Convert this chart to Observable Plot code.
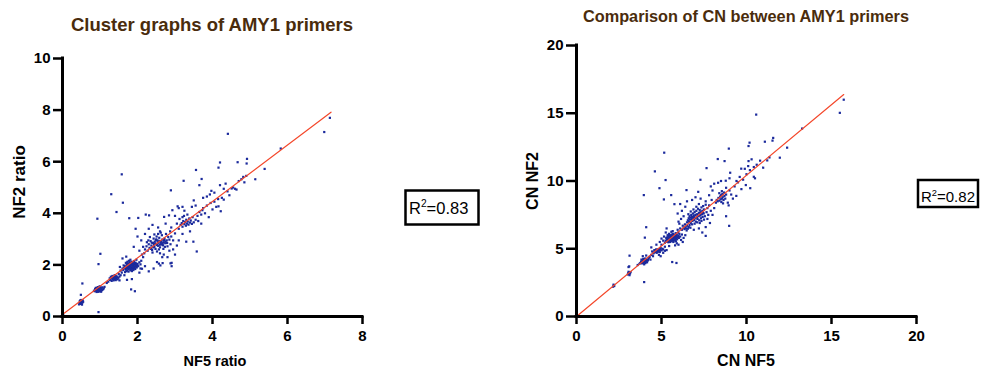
<!DOCTYPE html>
<html>
<head>
<meta charset="utf-8">
<script src="https://cdn.jsdelivr.net/npm/d3@7"></script>
<script src="https://cdn.jsdelivr.net/npm/@observablehq/plot@0.6"></script>
<style>
  html, body { margin: 0; padding: 0; background: #fff; }
  #wrap { position: relative; width: 990px; height: 370px; overflow: hidden; font-family: "Liberation Sans", Arial, sans-serif; }
  #wrap > svg, #wrap > .pl { position: absolute; top: 0; }
</style>
</head>
<body>
<div id="wrap"></div>
<script>
// ---------- data ----------
const titleLeft = "Cluster graphs of AMY1 primers";
const titleRight = "Comparison of CN between AMY1 primers";
const xLabelLeft = "NF5 ratio", yLabelLeft = "NF2 ratio";
const xLabelRight = "CN NF5", yLabelRight = "CN NF2";
const r2Left = "0.83", r2Right = "0.82";

const ticksLeftX = [0, 2, 4, 6, 8];
const ticksLeftY = [0, 2, 4, 6, 8, 10];
const ticksRightX = [0, 5, 10, 15, 20];
const ticksRightY = [0, 5, 10, 15, 20];

// fitted line end points
const fitLeftX = [0, 7.16];
const fitLeftY = [0.08, 7.92];
const fitRightX = [0, 15.72];
const fitRightY = [0, 16.38];

// NF5 ratio vs NF2 ratio
const pointsLeft = [
 [0,0],[0.02,0.05],[0.80,0],[0.93,0],[3.30,0],[3.40,0],
 [0.46,0.52],[0.48,0.58],[0.50,0.55],[0.52,0.60],[0.49,0.49],[0.53,0.54],[0.47,0.62],[0.51,0.50],[0.55,0.57],[0.50,0.64],[0.44,0.47],[0.54,0.62],[0.48,0.53],[0.52,0.46],[0.46,0.59],[0.49,0.84],[0.53,1.28],
 [0.86,0.98],[0.88,1.02],[0.90,1.05],[0.92,0.99],[0.93,1.08],[0.95,1.03],[0.96,1.10],[0.97,0.97],[0.98,1.06],[1.00,1.01],[1.01,1.12],[1.02,1.04],[1.03,0.96],[1.04,1.09],[0.89,1.11],[0.91,0.95],[0.94,1.14],[0.99,1.00],[1.05,1.02],[1.06,1.13],[0.87,1.07],[0.93,1.01],[0.97,1.04],[1.00,1.07],[0.95,0.96],[1.08,1.05],[1.10,1.09],[0.84,1.00],[1.12,1.15],[0.99,1.17],[0.96,0.17],
 [1.27,1.42],[1.30,1.47],[1.32,1.51],[1.34,1.45],[1.35,1.55],[1.37,1.49],[1.38,1.43],[1.40,1.53],[1.41,1.58],[1.43,1.47],[1.45,1.52],[1.47,1.44],[1.29,1.54],[1.36,1.40],[1.39,1.60],[1.44,1.56],[1.49,1.50],[1.31,1.38],[1.33,1.57],[1.42,1.41],[1.26,1.48],[1.52,1.55],[1.55,1.60],[1.22,1.35],[1.52,1.40],[1.18,1.30],
 [1.62,1.80],[1.64,1.88],[1.66,1.95],[1.68,1.84],[1.70,1.92],[1.71,2.02],[1.72,1.78],[1.73,1.88],[1.74,1.97],[1.75,2.06],[1.76,1.83],[1.77,1.93],[1.78,2.00],[1.79,1.86],[1.80,2.10],[1.80,1.95],[1.81,1.79],[1.82,2.03],[1.83,1.90],[1.84,1.98],[1.85,2.12],[1.86,1.85],[1.87,1.94],[1.88,2.05],[1.89,1.88],[1.90,1.99],[1.91,2.15],[1.92,1.92],[1.93,2.02],[1.94,1.84],[1.95,2.08],[1.96,1.96],[1.97,2.20],[1.98,1.90],[2.00,2.04],[2.02,1.95],[1.69,2.08],[1.73,2.12],[1.77,2.16],[1.81,2.20],[1.85,1.76],[1.89,1.80],[1.76,1.74],[1.67,1.72],[1.63,1.98],[1.60,1.86],[1.72,1.95],[1.78,1.91],[1.82,1.97],[1.86,2.00],[1.90,1.94],[1.84,2.06],[1.79,2.04],[1.75,1.90],[1.71,1.85],[1.93,1.87],[1.96,2.03],[1.99,1.98],[1.87,2.10],[1.83,1.84],[1.74,2.01],[1.80,1.89],[1.88,1.92],[1.92,2.07],[1.70,1.76],[2.05,2.10],[2.08,2.02],[1.58,1.70],[1.55,1.78],[2.10,2.16],
 [1.50,1.65],[1.65,1.60],[1.72,1.42],[1.85,1.45],[2.05,1.70],[2.12,1.85],[2.20,1.95],[1.60,2.25],[1.70,2.32],[1.53,1.92],[2.15,2.30],[2.30,1.75],[1.83,1.05],[1.93,0.98],[2.08,1.86],[2.52,2.11],[2.61,1.98],[2.88,2.06],[2.43,1.86],[2.66,2.30],[2.91,2.08],[2.91,1.95],[2.67,2.07],[2.57,2.05],[0.96,2.03],[1.01,2.43],
 [2.20,2.60],[2.24,2.72],[2.27,2.55],[2.30,2.80],[2.32,2.66],[2.35,2.92],[2.37,2.75],[2.39,2.58],[2.41,2.85],[2.43,3.02],[2.45,2.70],[2.46,2.90],[2.48,2.62],[2.50,2.80],[2.51,3.10],[2.53,2.95],[2.55,2.74],[2.56,2.86],[2.58,3.05],[2.60,2.68],[2.61,2.92],[2.63,2.80],[2.65,3.15],[2.66,2.98],[2.68,2.76],[2.70,2.88],[2.72,3.02],[2.74,2.84],[2.76,3.20],[2.78,2.95],[2.80,2.72],[2.82,3.08],[2.45,3.18],[2.40,2.48],[2.52,2.52],[2.57,2.60],[2.62,3.25],[2.69,2.62],[2.73,2.70],[2.33,3.08],[2.29,2.95],[2.36,2.62],[2.44,2.78],[2.49,2.96],[2.54,2.88],[2.59,2.78],[2.64,2.90],[2.67,2.84],[2.71,2.96],[2.75,2.91],[2.79,2.85],[2.85,2.98],[2.88,2.80],[2.90,3.10],[2.47,2.83],[2.52,2.77],[2.58,2.93],[2.62,2.86],[2.66,2.79],[2.42,2.68],[2.38,2.86],[2.50,2.99],[2.55,3.20],[2.60,3.30],[2.25,2.88],[2.18,2.45],[2.15,2.70],[2.95,2.95],[3.00,3.22],[2.87,3.30],
 [2.10,2.95],[2.20,3.20],[2.30,3.40],[2.40,3.55],[2.00,3.10],[1.90,2.70],[1.95,3.40],[2.05,2.55],[2.12,2.40],[2.70,2.40],[2.80,2.30],[2.60,2.45],[2.95,2.60],[3.05,2.75],[3.10,2.95],[2.90,3.45],[2.75,3.60],[2.55,3.45],[2.85,2.55],[3.00,2.40],[2.31,3.92],[2.22,3.95],[3.07,4.27],[3.20,4.25],[2.93,4.12],[2.84,3.92],[2.71,3.86],[3.49,2.90],[3.58,2.52],
 [3.15,3.55],[3.18,3.62],[3.20,3.48],[3.22,3.70],[3.25,3.58],[3.27,3.66],[3.29,3.52],[3.30,3.75],[3.32,3.60],[3.34,3.68],[3.36,3.56],[3.38,3.80],[3.40,3.64],[3.42,3.72],[3.45,3.59],[3.47,3.85],[3.24,3.90],[3.33,3.95],[3.10,3.40],[3.50,3.65],[3.55,3.75],[3.60,3.90],[3.62,3.70],[3.20,3.85],[3.05,3.60],[3.12,3.78],
 [3.00,3.90],[3.10,4.20],[3.25,4.10],[3.45,4.25],[3.55,4.30],[3.65,4.05],[3.70,3.95],[3.75,4.20],[3.80,4.00],[3.85,4.30],[3.90,3.85],[3.95,4.40],[4.00,4.15],[4.05,4.45],[4.10,4.25],[3.70,3.60],[3.40,3.30],[3.20,3.20],[3.30,2.90],[3.75,4.60],[3.50,4.50],[3.85,4.65],[4.05,4.80],[4.15,4.55],[4.25,4.60],[4.30,4.95],[4.40,4.85],[4.45,4.70],[4.55,5.00],[4.60,4.95],[4.35,5.15],[4.70,5.25],[4.85,5.20],[4.90,5.45],
 [4.30,4.53],[4.22,4.08],[4.16,4.27],[3.93,4.73],[3.97,4.87],[4.20,5.09],[3.73,4.12],
 [1.58,5.51],[1.30,4.74],[1.61,4.41],[2.89,4.89],[1.44,4.05],[0.93,3.79],[1.78,3.81],[2.02,3.82],
 [3.23,5.26],[3.71,5.33],[3.65,5.09],[3.56,5.68],[4.16,5.77],[4.20,5.97],[4.67,5.98],[4.92,6.11],[4.91,5.93],[5.39,5.72],[5.14,5.32],[4.82,5.41],[4.77,5.32],[4.51,4.96],[4.64,4.92],
 [4.41,7.08],[5.82,6.51],[6.98,7.15],[7.13,7.70]
];

// CN NF5 vs CN NF2
const pointsRight = [
 [0,0],[3.70,0],[3.90,0],[8.40,0],[8.60,0],
 [2.15,2.20],[2.20,2.30],[2.22,2.25],[2.18,2.35],
 [3.02,3.10],[3.05,3.20],[3.08,3.15],[3.10,3.25],[3.12,3.05],[3.15,3.18],[3.06,3.30],[3.18,3.28],[3.06,3.65],[3.12,4.49],[3.10,3.70],[3.98,2.54],
 [3.75,3.95],[3.80,4.05],[3.85,3.92],[3.88,4.10],[3.90,4.00],[3.92,4.18],[3.95,3.96],[3.97,4.08],[4.00,4.02],[4.02,4.15],[4.05,3.94],[4.08,4.10],[4.10,4.05],[4.12,4.22],[4.15,4.00],[4.18,4.12],[3.82,4.20],[3.93,4.25],[4.04,4.28],[4.20,4.18],[3.70,3.88],[4.25,4.30],[3.98,3.85],[4.30,4.40],
 [4.10,4.50],[3.90,4.45],[4.35,4.20],[4.40,4.55],[3.60,3.80],[4.50,4.45],
 [4.55,4.72],[4.60,4.80],[4.65,4.75],[4.70,4.88],[4.72,4.70],[4.75,4.82],[4.78,4.95],[4.80,4.78],[4.83,4.90],[4.85,4.85],[4.88,4.98],[4.90,4.76],[4.93,4.92],[4.95,5.05],[5.00,4.88],[4.68,4.95],[4.58,4.90],[5.05,5.00],[4.52,4.65],[5.10,4.95],
 [4.45,4.80],[4.40,5.10],[4.70,5.30],[5.10,4.70],[4.85,4.55],[5.20,4.85],[4.95,4.45],[5.30,4.90],
 [5.20,5.45],[5.25,5.60],[5.30,5.52],[5.32,5.70],[5.35,5.85],[5.38,5.62],[5.40,5.75],[5.42,5.95],[5.45,5.55],[5.47,5.68],[5.48,5.82],[5.50,6.00],[5.52,5.62],[5.54,5.74],[5.55,5.90],[5.57,5.58],[5.58,5.80],[5.60,6.05],[5.62,5.70],[5.63,5.85],[5.65,5.65],[5.67,5.95],[5.68,5.76],[5.70,6.10],[5.72,5.60],[5.73,5.88],[5.75,5.72],[5.77,6.00],[5.78,5.82],[5.80,5.66],[5.82,5.94],[5.84,6.15],[5.86,5.78],[5.88,5.90],[5.90,6.02],[5.92,5.70],[5.95,5.85],[5.98,6.20],[6.00,5.95],[6.02,5.80],[5.44,6.10],[5.36,6.00],[5.58,6.25],[5.66,6.30],[5.28,5.80],[5.50,5.50],[5.60,5.55],[5.70,5.50],[5.85,5.55],[5.64,5.78],[5.56,5.68],[5.74,5.92],[5.52,5.88],[5.68,6.08],[5.78,5.75],[5.62,5.95],[5.46,5.80],[5.40,5.48],[6.05,6.10],[6.10,5.90],
 [5.00,5.30],[5.10,5.60],[5.15,5.90],[5.00,5.75],[4.90,5.50],[5.25,6.20],[5.30,6.50],[6.15,5.65],[6.20,6.05],[6.25,5.50],[5.90,5.40],[6.00,5.30],[6.30,5.80],[5.45,5.20],[5.20,5.15],[5.80,5.25],[6.40,6.00],[5.95,6.40],[4.10,6.59],[4.02,5.82],[5.63,4.02],[5.88,3.95],
 [6.20,6.40],[6.30,6.55],[6.35,6.45],[6.40,6.62],[6.45,6.50],[6.50,6.70],[6.55,6.48],[6.60,6.60],[6.65,6.75],[6.38,6.80],[6.25,6.70],[6.70,6.55],[6.48,6.35],[6.10,6.50],[6.05,6.85],
 [6.50,6.95],[6.55,7.10],[6.60,7.25],[6.62,7.00],[6.65,7.40],[6.68,7.15],[6.70,7.30],[6.72,6.90],[6.75,7.50],[6.78,7.20],[6.80,7.35],[6.82,7.05],[6.85,7.60],[6.88,7.25],[6.90,7.45],[6.92,7.12],[6.95,7.70],[6.98,7.30],[7.00,7.50],[7.02,7.00],[7.05,7.80],[7.08,7.35],[7.10,7.55],[7.12,7.20],[7.15,7.95],[7.18,7.40],[7.20,7.65],[7.22,7.10],[7.25,7.85],[7.28,7.45],[7.30,7.70],[7.32,7.25],[7.35,8.05],[7.38,7.55],[7.40,7.80],[7.42,7.35],[7.45,8.15],[7.48,7.60],[7.50,7.90],[7.55,7.40],[7.60,8.25],[7.65,7.70],[7.70,8.00],[6.58,7.55],[6.72,7.75],[6.88,7.90],[7.05,8.10],[7.20,8.30],[7.35,7.05],[7.50,7.15],[6.95,6.85],[7.10,6.95],[6.80,6.80],[7.25,6.90],[7.00,7.25],[7.15,7.45],[6.90,7.35],[7.30,7.55],[7.45,7.65],[7.75,7.50],
 [6.30,7.40],[6.20,7.80],[6.40,8.10],[6.10,8.30],[6.50,8.50],[6.80,8.60],[7.00,8.80],[7.30,8.70],[7.60,8.50],[7.80,8.20],[7.90,7.80],[8.00,7.50],[7.70,7.20],[7.85,6.90],[7.60,6.60],[7.20,6.50],[6.90,6.40],[7.40,6.20],[7.60,5.95],[6.00,7.00],[5.95,7.60],[6.15,7.20],[8.10,8.00],[7.95,8.60],
 [8.20,8.40],[8.25,8.60],[8.30,8.50],[8.35,8.75],[8.40,8.55],[8.45,8.85],[8.48,8.65],[8.50,8.95],[8.52,8.45],[8.55,8.70],[8.58,9.05],[8.60,8.80],[8.65,8.60],[8.68,9.15],[8.70,8.90],[8.75,8.70],[8.40,9.10],[8.55,9.25],[8.80,9.00],[8.62,8.35],
 [8.00,9.30],[8.10,9.80],[7.90,9.60],[8.80,9.50],[9.00,9.30],[9.10,9.00],[9.20,8.70],[8.90,8.40],[9.30,9.60],[9.50,9.90],[9.60,10.30],[9.80,10.10],[9.00,10.20],[8.50,10.00],[9.40,8.90],[8.95,8.20],[7.80,8.95],[9.70,9.40],[10.00,10.50],[10.20,10.80],[10.50,10.20],[10.60,11.20],[10.30,11.60],[10.80,11.50],[9.90,10.90],
 [8.80,7.40],[8.98,6.69],[5.16,12.09],[4.61,10.71],[5.24,10.07],[4.88,9.47],[5.14,8.64],[3.96,8.96],[5.57,8.96],[7.16,9.20],[6.47,9.33],[5.76,8.29],[7.29,10.09],[7.65,10.95],
 [8.33,9.87],[8.78,10.02],[9.41,10.00],[9.96,9.70],[10.22,9.47],[10.43,10.31],[9.04,10.61],[9.69,10.91],[10.12,11.47],[10.10,11.10],[10.43,11.03],[10.98,10.98],[8.71,11.47],[8.31,11.62],[11.96,11.72],[11.35,11.74],[11.22,11.52],
 [8.96,12.39],[12.39,12.46],[10.12,12.58],[10.18,12.83],[11.08,12.90],[11.53,12.98],[11.57,13.18],[13.27,13.87],[10.57,14.90],[15.49,15.03],[15.72,16.00]
];

// ---------- drawing ----------
const FONT = "'Liberation Sans', Arial, Helvetica, sans-serif";
const DOT = "#1b2a9c";
const FIT = "#f4472a";
const TITLE = "#4a2c0c";

function fitRows(xs, ys) { return xs.map((x, i) => ({x, y: ys[i]})); }

function panel({width, height, mL, mR, mT, mB, xDom, yDom, xt, yt, pts, fx, fy, ytickSize}) {
  return Plot.plot({
    width, height,
    marginLeft: mL, marginRight: mR, marginTop: mT, marginBottom: mB,
    x: {domain: xDom},
    y: {domain: yDom},
    style: {fontFamily: FONT, color: "#000", background: "transparent", overflow: "visible"},
    marks: [
      Plot.dot(pts, {x: d => d[0], y: d => d[1], symbol: "square", r: 1.25, fill: DOT, stroke: "none"}),
      Plot.line(fitRows(fx, fy), {x: "x", y: "y", stroke: FIT, strokeWidth: 1.2}),
      Plot.ruleY([0], {x1: xDom[0], x2: xDom[1], stroke: "#000", strokeWidth: 3, strokeLinecap: "square"}),
      Plot.ruleX([0], {y1: yDom[0], y2: yDom[1], stroke: "#000", strokeWidth: 3, strokeLinecap: "square"}),
      Plot.axisX({ticks: xt, tickSize: 8, tickPadding: 6, strokeWidth: 2.5, fontSize: 15, fontWeight: "bold", label: null, tickFormat: d => String(d)}),
      Plot.axisY({ticks: yt, tickSize: ytickSize, tickPadding: 3, strokeWidth: 2.5, fontSize: 15, fontWeight: "bold", label: null, tickFormat: d => String(d)})
    ]
  });
}

const wrap = document.getElementById("wrap");

const left = panel({width: 400, height: 370, mL: 62, mR: 38, mT: 58, mB: 54,
  xDom: [0, 8], yDom: [0, 10], xt: ticksLeftX, yt: ticksLeftY, pts: pointsLeft,
  fx: fitLeftX, fy: fitLeftY, ytickSize: 9});
left.classList.add("pl");
left.style.left = "0px";
wrap.appendChild(left);

const right = panel({width: 500, height: 370, mL: 86, mR: 74, mT: 45, mB: 54,
  xDom: [0, 20], yDom: [0, 20], xt: ticksRightX, yt: ticksRightY, pts: pointsRight,
  fx: fitRightX, fy: fitRightY, ytickSize: 10});
right.classList.add("pl");
right.style.left = "490px";
wrap.appendChild(right);

// overlay: titles, axis labels, R² boxes
const svg = d3.select(wrap).append("svg")
  .attr("width", 990).attr("height", 370)
  .style("left", "0px").style("pointer-events", "none")
  .style("font-family", FONT);

svg.append("text").attr("x", 212).attr("y", 31).attr("text-anchor", "middle")
  .attr("font-size", 18.5).attr("font-weight", "bold").attr("fill", TITLE).text(titleLeft);
svg.append("text").attr("x", 746).attr("y", 22).attr("text-anchor", "middle")
  .attr("font-size", 16.3).attr("font-weight", "bold").attr("fill", TITLE).text(titleRight);

svg.append("text").attr("x", 215).attr("y", 366).attr("text-anchor", "middle")
  .attr("font-size", 14.5).attr("font-weight", "bold").text(xLabelLeft);
svg.append("text").attr("transform", "translate(25,182) rotate(-90)").attr("text-anchor", "middle")
  .attr("font-size", 17).attr("font-weight", "bold").text(yLabelLeft);
svg.append("text").attr("x", 746).attr("y", 366).attr("text-anchor", "middle")
  .attr("font-size", 16).attr("font-weight", "bold").text(xLabelRight);
svg.append("text").attr("transform", "translate(538,181) rotate(-90)").attr("text-anchor", "middle")
  .attr("font-size", 16).attr("font-weight", "bold").text(yLabelRight);

function r2box(x, y, w, h, val, fs, tx, ty) {
  svg.append("rect").attr("x", x).attr("y", y).attr("width", w).attr("height", h)
    .attr("fill", "#fff").attr("stroke", "#000").attr("stroke-width", 2.5);
  const t = svg.append("text").attr("x", tx).attr("y", ty).attr("font-size", fs);
  t.append("tspan").text("R");
  t.append("tspan").attr("font-size", fs * 0.62).attr("dy", -fs * 0.42).text("2");
  t.append("tspan").attr("dy", fs * 0.42).text("=" + val);
}
r2box(405.5, 190.5, 73, 34, r2Left, 16.5, 409, 214);
r2box(918, 180, 60, 27, r2Right, 15, 921, 202);
</script>
</body>
</html>
